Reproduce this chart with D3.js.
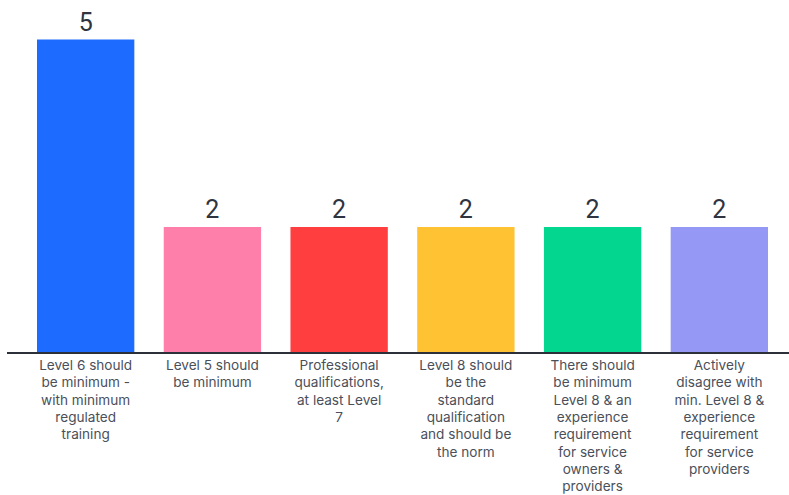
<!DOCTYPE html>
<html><head><meta charset="utf-8">
<script src="https://cdn.jsdelivr.net/npm/d3@7"></script>
<style>html,body{margin:0;padding:0;background:#fff;}</style>
</head><body>
<svg id="chart" width="789" height="495"></svg>
<script>
const categories = [
  "Level 6 should\nbe minimum -\nwith minimum\nregulated\ntraining",
  "Level 5 should\nbe minimum",
  "Professional\nqualifications,\nat least Level\n7",
  "Level 8 should\nbe the\nstandard\nqualification\nand should be\nthe norm",
  "There should\nbe minimum\nLevel 8 & an\nexperience\nrequirement\nfor service\nowners &\nproviders",
  "Actively\ndisagree with\nmin. Level 8 &\nexperience\nrequirement\nfor service\nproviders"
];
const values = [5, 2, 2, 2, 2, 2];
const colors = ["#1e6bff", "#ff7fab", "#ff3f3f", "#ffc232", "#02d68f", "#9598f4"];

const svg = d3.select("#chart");
const x = d3.scaleBand().domain(d3.range(categories.length)).range([37, 768]).paddingInner(0.232).paddingOuter(0);
const y = d3.scaleLinear().domain([0, 5]).range([352, 39.5]);

svg.selectAll("rect.bar").data(values).join("rect")
  .attr("class", "bar")
  .attr("x", (d, i) => x(i))
  .attr("y", d => y(d))
  .attr("width", x.bandwidth())
  .attr("height", d => y(0) - y(d))
  .attr("fill", (d, i) => colors[i]);

svg.selectAll("text.val").data(values).join("text")
  .attr("class", "val")
  .attr("x", (d, i) => x(i) + x.bandwidth() / 2)
  .attr("y", d => y(d) - 9)
  .attr("text-anchor", "middle")
  .attr("font-family", "Roboto, 'Noto Sans', sans-serif")
  .attr("font-size", 25)
  .attr("fill", "#2e3440")
  .text(d => d);

svg.append("line")
  .attr("x1", 7).attr("x2", 789)
  .attr("y1", y(0) + 1).attr("y2", y(0) + 1)
  .attr("stroke", "#2b303b").attr("stroke-width", 2.2);

const lab = svg.selectAll("text.cat").data(categories).join("text")
  .attr("class", "cat")
  .attr("text-anchor", "middle")
  .attr("font-family", "Inter, 'Noto Sans', sans-serif")
  .attr("font-size", 13.6)
  .attr("fill", "#4a4f5a");
lab.each(function(d, i) {
  const t = d3.select(this);
  d.split("\n").forEach((line, j) => {
    t.append("tspan")
      .attr("x", x(i) + x.bandwidth() / 2)
      .attr("y", 370 + j * 17.3)
      .text(line);
  });
});
</script>
</body></html>
